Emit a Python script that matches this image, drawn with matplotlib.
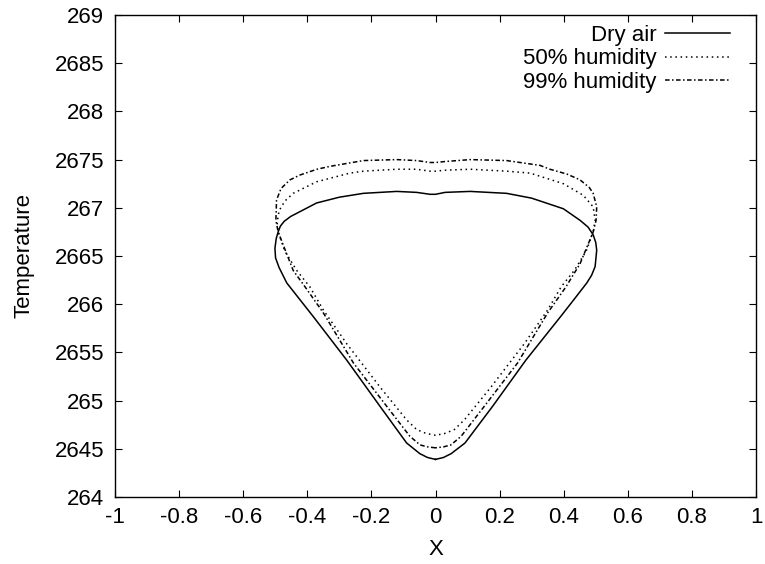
import matplotlib
matplotlib.use("Agg")
import matplotlib.pyplot as plt

plt.rcParams['font.family'] = ['Liberation Sans', 'DejaVu Sans']

# ---- data (closed loops: x vs temperature) ----
dry_x = [0.000, -0.025, -0.049, -0.090, -0.173, -0.277, -0.381, -0.464, -0.488,
         -0.499, -0.501, -0.497, -0.491, -0.484, -0.472, -0.452, -0.423, -0.371,
         -0.300, -0.225, -0.121, -0.059, -0.017, 0.000, 0.030, 0.108, 0.222, 0.300,
         0.399, 0.451, 0.476, 0.492, 0.500, 0.503, 0.498, 0.487, 0.472, 0.430,
         0.390, 0.282, 0.178, 0.092, 0.049, 0.025, 0.000]
dry_y = [264.39, 264.41, 264.45, 264.56, 264.94, 265.42, 265.87, 266.22, 266.38,
         266.48, 266.58, 266.68, 266.75, 266.81, 266.86, 266.91, 266.96, 267.05,
         267.11, 267.15, 267.17, 267.16, 267.14, 267.14, 267.16, 267.17, 267.15,
         267.10, 266.99, 266.87, 266.80, 266.72, 266.64, 266.56, 266.39, 266.30,
         266.22, 266.04, 265.87, 265.42, 264.94, 264.56, 264.45, 264.41, 264.39]

h50_x = [0.000, -0.030, -0.059, -0.090, -0.173, -0.277, -0.350, -0.392, -0.433,
         -0.470, -0.491, -0.494, -0.488, -0.470, -0.444, -0.371, -0.267, -0.225,
         -0.121, -0.059, -0.017, 0.000, 0.030, 0.108, 0.222, 0.295, 0.399, 0.461,
         0.492, 0.498, 0.492, 0.470, 0.433, 0.392, 0.350, 0.277, 0.173, 0.090,
         0.059, 0.030, 0.000]
h50_y = [264.64, 264.66, 264.70, 264.80, 265.14, 265.59, 265.94, 266.18, 266.35,
         266.55, 266.75, 266.85, 266.97, 267.07, 267.15, 267.27, 267.36, 267.38,
         267.40, 267.40, 267.38, 267.38, 267.39, 267.40, 267.38, 267.36, 267.25,
         267.13, 267.01, 266.87, 266.75, 266.55, 266.35, 266.18, 265.94, 265.59,
         265.14, 264.80, 264.70, 264.66, 264.64]

h99_x = [0.000, -0.025, -0.048, -0.080, -0.152, -0.256, -0.350, -0.407, -0.444,
         -0.491, -0.498, -0.496, -0.482, -0.454, -0.423, -0.370, -0.329, -0.225,
         -0.121, -0.059, -0.017, 0.000, 0.030, 0.108, 0.222, 0.326, 0.357, 0.410,
         0.451, 0.480, 0.492, 0.503, 0.501, 0.492, 0.451, 0.407, 0.350, 0.256,
         0.152, 0.080, 0.048, 0.025, 0.000]
h99_y = [264.51, 264.52, 264.54, 264.63, 264.94, 265.39, 265.91, 266.18, 266.35,
         266.75, 266.87, 267.08, 267.20, 267.29, 267.34, 267.40, 267.43, 267.49,
         267.50, 267.49, 267.47, 267.47, 267.48, 267.50, 267.49, 267.44, 267.40,
         267.35, 267.29, 267.21, 267.15, 267.01, 266.87, 266.75, 266.42, 266.18,
         265.91, 265.39, 264.94, 264.63, 264.54, 264.52, 264.51]

series_labels = ["Dry air", "50% humidity", "99% humidity"]

x_ticks = [-1, -0.8, -0.6, -0.4, -0.2, 0, 0.2, 0.4, 0.6, 0.8, 1]
x_ticklabels = ["-1", "-0.8", "-0.6", "-0.4", "-0.2", "0", "0.2", "0.4", "0.6", "0.8", "1"]
y_ticks = [264, 264.5, 265, 265.5, 266, 266.5, 267, 267.5, 268, 268.5, 269]
y_ticklabels = ["264", "2645", "265", "2655", "266", "2665", "267", "2675", "268", "2685", "269"]

FS = 16

# ---- figure ----
fig = plt.figure(figsize=(7.65, 5.64), dpi=100)
ax = fig.add_axes([115/765, 67/564, 641/765, 482/564])

ax.plot(dry_x, dry_y, color='black', lw=1.1, linestyle='-', label=series_labels[0])
ax.plot(h50_x, h50_y, color='black', lw=1.1, linestyle=(0, (1.0, 2.4)), label=series_labels[1])
ax.plot(h99_x, h99_y, color='black', lw=1.1, linestyle=(0, (3.0, 1.6, 1.0, 1.6)), label=series_labels[2])

ax.set_xlim(-1, 1)
ax.set_ylim(264, 269)
ax.set_xticks(x_ticks)
ax.set_xticklabels(x_ticklabels)
ax.set_yticks(y_ticks)
ax.set_yticklabels(y_ticklabels)
ax.tick_params(direction='in', length=5, width=0.8, top=True, right=True,
               labelsize=FS, pad=7)
ax.tick_params(axis='y', pad=8)
for s in ax.spines.values():
    s.set_linewidth(1.0)

ax.set_xlabel("X", fontsize=FS, labelpad=8)
ax.set_ylabel("Temperature", fontsize=FS, labelpad=14)

ax.legend(loc='upper right', bbox_to_anchor=(0.959, 0.979), frameon=False,
          markerfirst=False, fontsize=FS, handlelength=2.9, handletextpad=0.4,
          labelspacing=0.1, borderpad=0, borderaxespad=0)

fig.savefig("out.png", dpi=100)
